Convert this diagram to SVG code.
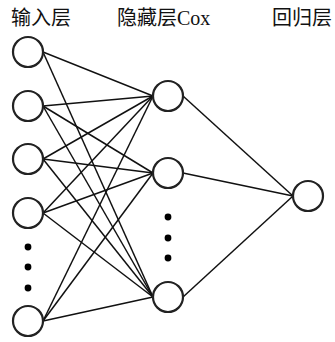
<svg xmlns="http://www.w3.org/2000/svg" width="335" height="342" viewBox="0 0 335 342">
  <style>
    .node { fill: #ffffff; stroke: #222222; stroke-width: 2.2; }
    .edge { stroke: #111111; stroke-width: 1.5; fill: none; }
    .dot { fill: #000000; }
    .label { font-family: "Liberation Serif", "Noto Sans CJK SC", serif; font-size: 20px; fill: #111111; }
  </style>
  <rect width="335" height="342" fill="#ffffff"/>

  <!-- layer titles -->
  <text class="label" x="11" y="25">输入层</text>
  <text class="label" x="117" y="25">隐藏层Cox</text>
  <text class="label" x="272" y="25">回归层</text>

  <!-- connectors: input right edge to hidden left edge, hidden right edge to output left edge -->
  <g id="connectors">
    <line class="edge" x1="43" y1="52" x2="153" y2="96"/>
    <line class="edge" x1="43" y1="52" x2="153" y2="297"/>

    <line class="edge" x1="43" y1="106" x2="153" y2="96"/>
    <line class="edge" x1="43" y1="106" x2="153" y2="173"/>
    <line class="edge" x1="43" y1="106" x2="153" y2="297"/>

    <line class="edge" x1="43" y1="159" x2="153" y2="96"/>
    <line class="edge" x1="43" y1="159" x2="153" y2="173"/>
    <line class="edge" x1="43" y1="159" x2="153" y2="297"/>

    <line class="edge" x1="43" y1="213" x2="153" y2="96"/>
    <line class="edge" x1="43" y1="213" x2="153" y2="173"/>
    <line class="edge" x1="43" y1="213" x2="153" y2="297"/>

    <line class="edge" x1="43" y1="321" x2="153" y2="96"/>
    <line class="edge" x1="43" y1="321" x2="153" y2="173"/>
    <line class="edge" x1="43" y1="321" x2="153" y2="297"/>

    <line class="edge" x1="183" y1="96" x2="293" y2="196"/>
    <line class="edge" x1="183" y1="173" x2="293" y2="196"/>
    <line class="edge" x1="183" y1="297" x2="293" y2="196"/>
  </g>

  <!-- input layer -->
  <g id="in1"><circle class="node" cx="28" cy="52" r="15"/></g>
  <g id="in2"><circle class="node" cx="28" cy="106" r="15"/></g>
  <g id="in3"><circle class="node" cx="28" cy="159" r="15"/></g>
  <g id="in4"><circle class="node" cx="28" cy="213" r="15"/></g>
  <g id="in-ellipsis">
    <circle class="dot" cx="28" cy="247" r="3.4"/>
    <circle class="dot" cx="28" cy="267" r="3.4"/>
    <circle class="dot" cx="28" cy="288" r="3.4"/>
  </g>
  <g id="in5"><circle class="node" cx="28" cy="321" r="15"/></g>

  <!-- hidden layer -->
  <g id="h1"><circle class="node" cx="168" cy="96" r="15"/></g>
  <g id="h2"><circle class="node" cx="168" cy="173" r="15"/></g>
  <g id="h-ellipsis">
    <circle class="dot" cx="168" cy="217" r="3.4"/>
    <circle class="dot" cx="168" cy="238" r="3.4"/>
    <circle class="dot" cx="168" cy="258" r="3.4"/>
  </g>
  <g id="h3"><circle class="node" cx="168" cy="297" r="15"/></g>

  <!-- output layer -->
  <g id="out"><circle class="node" cx="308" cy="196" r="15"/></g>
</svg>
